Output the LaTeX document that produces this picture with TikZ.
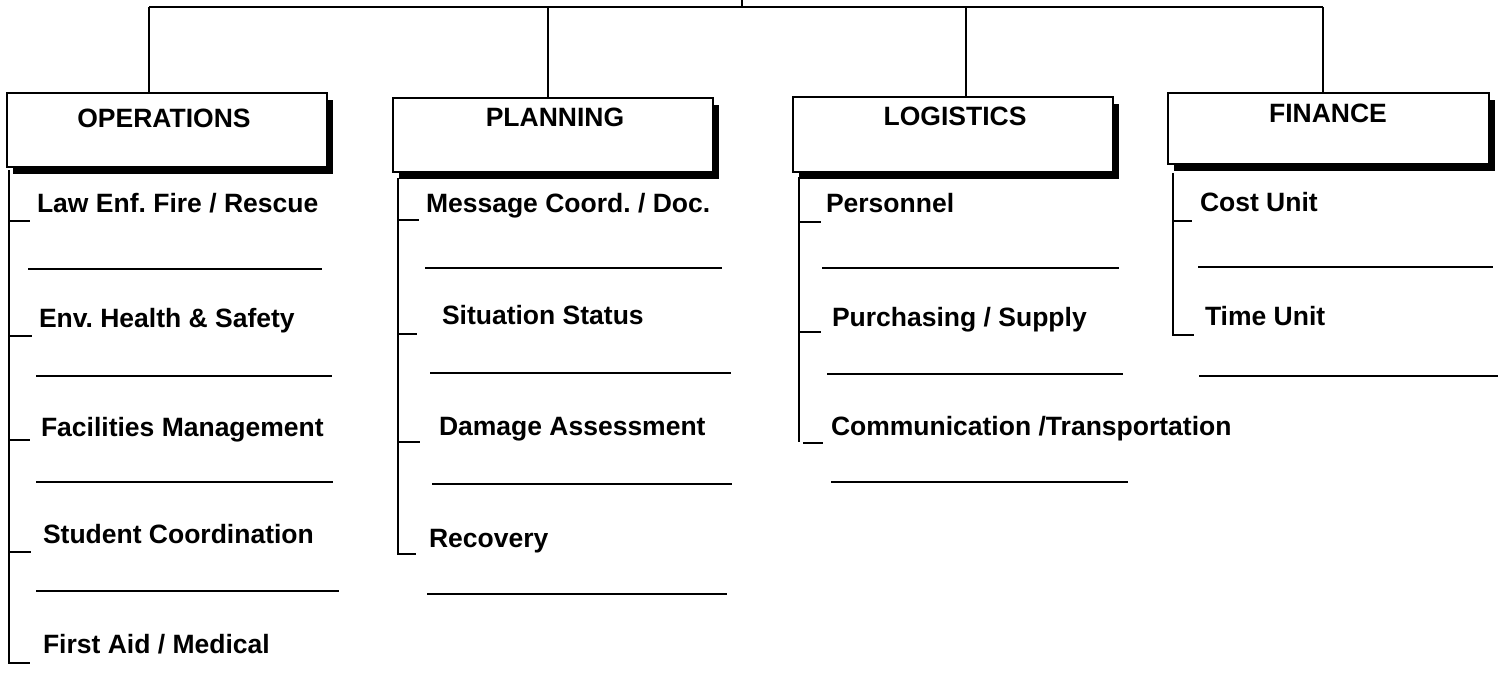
\documentclass[tikz,border=0pt]{standalone}
\usepackage{fontspec}
\setmainfont{Liberation Sans}
\usetikzlibrary{shadows}
\frenchspacing
\begin{document}
\begin{tikzpicture}[x=1pt,y=-1pt,line width=2pt,
  hdrbox/.style={draw,fill=white,line width=2pt,inner sep=0pt,
    drop shadow={shadow xshift=6pt,shadow yshift=-7pt,fill=black,opacity=1}},
  htext/.style={anchor=base,inner sep=0pt,font=\fontsize{26.5}{30}\selectfont\bfseries},
  itemtext/.style={anchor=base west,inner sep=0pt,font=\fontsize{26.5}{30}\selectfont\bfseries},
  rail/.style={line width=2.4pt},
  blank/.style={line width=2.4pt}]
\useasboundingbox (0,0) rectangle (1504,700);
% header boxes
\node[hdrbox,minimum width=320pt,minimum height=74pt] (ops) at (167,130) {};
\node[hdrbox,minimum width=320pt,minimum height=74pt] (pla) at (553,135) {};
\node[hdrbox,minimum width=320pt,minimum height=75pt] (log) at (953,134.5) {};
\node[hdrbox,minimum width=321pt,minimum height=71pt] (fin) at (1328.5,128.5) {};
\node[htext] (opst) at (164,128) {OPERATIONS};
\node[htext] (plat) at (555,127) {PLANNING};
\node[htext] (logt) at (955,126) {LOGISTICS};
\node[htext] (fint) at (1328,123) {FINANCE};
% top connectors
\coordinate (stub) at (742,0);
\coordinate (barL) at (149,7);
\coordinate (barR) at (1323,7);
\coordinate (pj) at (548,7);
\coordinate (lj) at (966,7);
\draw (barL) -- (barR);
\draw (stub) -- (stub |- barL);
\draw (barL) -- (barL |- ops.north);
\draw (pj) -- (pj |- pla.north);
\draw (lj) -- (lj |- log.north);
\draw (barR) -- (barR |- fin.north);
% OPERATIONS items
\node[itemtext] (o1) at (36,213) {Law Enf. Fire / Rescue};
\node[itemtext] (o2) at (38,328) {Env. Health \& Safety};
\node[itemtext] (o3) at (40,436) {Facilities Management};
\node[itemtext] (o4) at (42,543) {Student Coordination};
\node[itemtext] (o5) at (42,653) {First Aid / Medical};
\draw[rail] (9,170) |- (30,663);
\draw[rail] (9,221) -- (30,221);
\draw[rail] (9,336) -- (32,336);
\draw[rail] (9,440) -- (30,440);
\draw[rail] (9,552) -- (31,552);
\draw[blank] (28,269) -- (322,269);
\draw[blank] (36,376) -- (332,376);
\draw[blank] (36,482) -- (333,482);
\draw[blank] (36,591) -- (339,591);
% PLANNING items
\node[itemtext] (p1) at (425,213) {Message Coord. / Doc.};
\node[itemtext] (p2) at (441,325) {Situation Status};
\node[itemtext] (p3) at (438,435) {Damage Assessment};
\node[itemtext] (p4) at (428,547) {Recovery};
\draw[rail] (398,178) |- (416,554);
\draw[rail] (398,220) -- (419,220);
\draw[rail] (398,334) -- (417,334);
\draw[rail] (398,442) -- (420,442);
\draw[blank] (425,268) -- (722,268);
\draw[blank] (430,373) -- (731,373);
\draw[blank] (432,484) -- (732,484);
\draw[blank] (427,594) -- (727,594);
% LOGISTICS items
\node[itemtext] (l1) at (825,213) {Personnel};
\node[itemtext] (l2) at (831,327) {Purchasing / Supply};
\node[itemtext] (l3) at (830,435) {Communication /Transportation};
\draw[rail] (799,177) -- (799,442);
\draw[rail] (799,222) -- (821,222);
\draw[rail] (799,332) -- (821,332);
\draw[rail] (803,443) -- (823,443);
\draw[blank] (822,268) -- (1119,268);
\draw[blank] (827,374) -- (1123,374);
\draw[blank] (831,482) -- (1128,482);
% FINANCE items
\node[itemtext] (f1) at (1199,212) {Cost Unit};
\node[itemtext] (f2) at (1204,326) {Time Unit};
\draw[rail] (1173,173) |- (1194,335);
\draw[rail] (1173,221) -- (1192,221);
\draw[blank] (1198,267) -- (1493,267);
\draw[blank] (1199,376) -- (1498,376);
\end{tikzpicture}
\end{document}
